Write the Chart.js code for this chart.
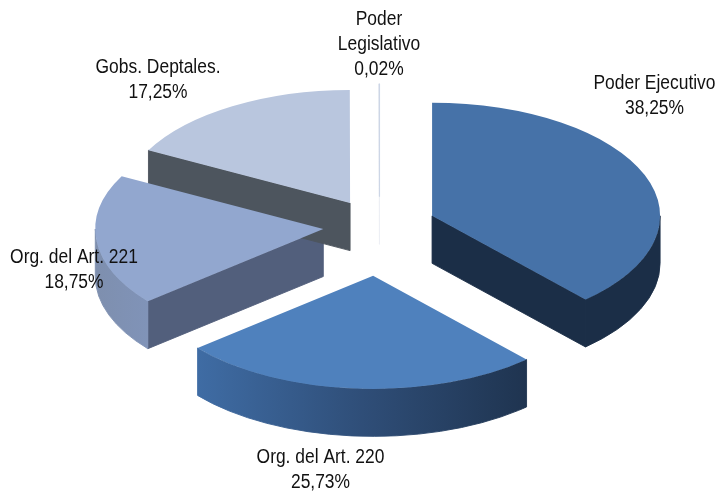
<!DOCTYPE html>
<html>
<head>
<meta charset="utf-8">
<style>
  html, body { margin: 0; padding: 0; background: #fff; }
  canvas { display: block; }
</style>
<script src="https://cdn.jsdelivr.net/npm/chart.js@4"></script>
</head>
<body>
<canvas id="pie" width="718" height="491"></canvas>
<script>
const categories = ["Poder Ejecutivo", "Org. del Art. 220", "Org. del Art. 221", "Gobs. Deptales.", "Poder Legislativo"];
const shares = [38.25, 25.73, 18.75, 17.25, 0.02];
const shareLabels = ["38,25%", "25,73%", "18,75%", "17,25%", "0,02%"];

const topColors = ["#4672a8", "#4f81bd", "#92a7cf", "#b9c6de", "#cdd6e6"];
const cutColors = ["#1b2e47", "#1b2e47", "#525f7c", "#4d555e", "#eceef4"];
// stops of the outer wall, left to right
const wallColors = [
  ["#1b2e47", "#1b2e47"],
  ["#3f6ca4", "#2f4e78", "#1f3450"],
  ["#7e8fae", "#8093b8"],
  ["#4d555e", "#4d555e"],
  ["#eceef4", "#eceef4"],
];

// 3d look
const radius = 228;
const tilt = 0.496;      // ellipse height / width
const depth = 47.5;
const explode = [58, 70, 55, 54, 48];
const explodeTilt = [0.63, 0.67, 0, 0.56, 0.67];
const nudgeX = [0, 0, 0, 0, 1.5];

// label blocks: centre x and y of first line
const labelBlocks = [
  { x: 654.5, y: 83, lines: ["Poder Ejecutivo", shareLabels[0]] },
  { x: 320.5, y: 457, lines: ["Org. del Art. 220", shareLabels[1]] },
  { x: 74, y: 257, lines: ["Org. del Art. 221", shareLabels[2]] },
  { x: 158, y: 67, lines: ["Gobs. Deptales.", shareLabels[3]] },
  { x: 379, y: 19, lines: ["Poder", "Legislativo", shareLabels[4]] },
];

function apexOf(arc, i) {
  const mid = (arc.startAngle + arc.endAngle) / 2;
  return {
    x: arc.x + Math.cos(mid) * explode[i] + nudgeX[i],
    y: arc.y + Math.sin(mid) * explode[i] * explodeTilt[i],
  };
}

function paint(ctx) {
  // the thin stroke hides the seams between wall and top face
  ctx.strokeStyle = ctx.fillStyle;
  ctx.lineWidth = 0.9;
  ctx.fill();
  ctx.stroke();
}

function drawCut(ctx, angle, color) {
  const ex = Math.cos(angle) * radius;
  const ey = Math.sin(angle) * radius * tilt;
  ctx.fillStyle = color;
  ctx.beginPath();
  ctx.moveTo(0, 0);
  ctx.lineTo(ex, ey);
  ctx.lineTo(ex, ey + depth);
  ctx.lineTo(0, depth);
  ctx.closePath();
  paint(ctx);
}

function drawWall(ctx, a0, a1, stops) {
  // only the front half of the rim can be seen
  const from = Math.max(a0, 0);
  const to = Math.min(a1, Math.PI);
  if (to <= from) return;
  const xs = [Math.cos(from) * radius, Math.cos(to) * radius];
  const g = ctx.createLinearGradient(Math.min(...xs), 0, Math.max(...xs), 0);
  stops.forEach((c, k) => g.addColorStop(k / (stops.length - 1), c));
  ctx.fillStyle = g;
  ctx.beginPath();
  ctx.ellipse(0, 0, radius, radius * tilt, 0, from, to);
  ctx.ellipse(0, depth, radius, radius * tilt, 0, to, from, true);
  ctx.closePath();
  paint(ctx);
}

const pie3d = {
  id: "pie3d",
  beforeDatasetDraw(chart, args) {
    const ctx = chart.ctx;
    const arcs = args.meta.data;
    // side walls first
    arcs.forEach((arc, i) => {
      const p = apexOf(arc, i);
      ctx.save();
      ctx.translate(p.x, p.y);
      if (Math.cos(arc.endAngle) > 1e-6) drawCut(ctx, arc.endAngle, cutColors[i]);
      if (Math.cos(arc.startAngle) < -1e-6) drawCut(ctx, arc.startAngle, cutColors[i]);
      drawWall(ctx, arc.startAngle, arc.endAngle, wallColors[i]);
      ctx.restore();
    });
    // top faces drawn by the arc elements, squashed
    arcs.forEach((arc, i) => {
      const p = apexOf(arc, i);
      ctx.save();
      ctx.translate(p.x, p.y);
      ctx.scale(1, tilt);
      ctx.translate(-arc.x, -arc.y);
      arc.draw(ctx, chart.chartArea);
      ctx.restore();
    });
    return false;
  },
  afterDraw(chart) {
    const ctx = chart.ctx;
    ctx.save();
    ctx.fillStyle = "#111";
    ctx.font = '20.5px "Liberation Sans", Arial, sans-serif';
    ctx.textAlign = "center";
    ctx.textBaseline = "middle";
    labelBlocks.forEach((b) => {
      b.lines.forEach((line, k) => {
        ctx.save();
        ctx.translate(b.x, b.y + k * 25.3);
        ctx.scale(0.85, 1);
        ctx.fillText(line, 0, 0);
        ctx.restore();
      });
    });
    ctx.restore();
  },
};

new Chart(document.getElementById("pie"), {
  type: "pie",
  data: {
    labels: categories,
    datasets: [{
      data: shares,
      backgroundColor: topColors,
      borderColor: topColors,
      borderWidth: [0, 0, 0, 0, 1.2],
    }],
  },
  options: {
    responsive: false,
    animation: false,
    events: [],
    radius: radius,
    layout: { padding: { left: 38, bottom: 33 } },
    plugins: {
      legend: { display: false },
      tooltip: { enabled: false },
    },
  },
  plugins: [pie3d],
});
</script>
</body>
</html>
